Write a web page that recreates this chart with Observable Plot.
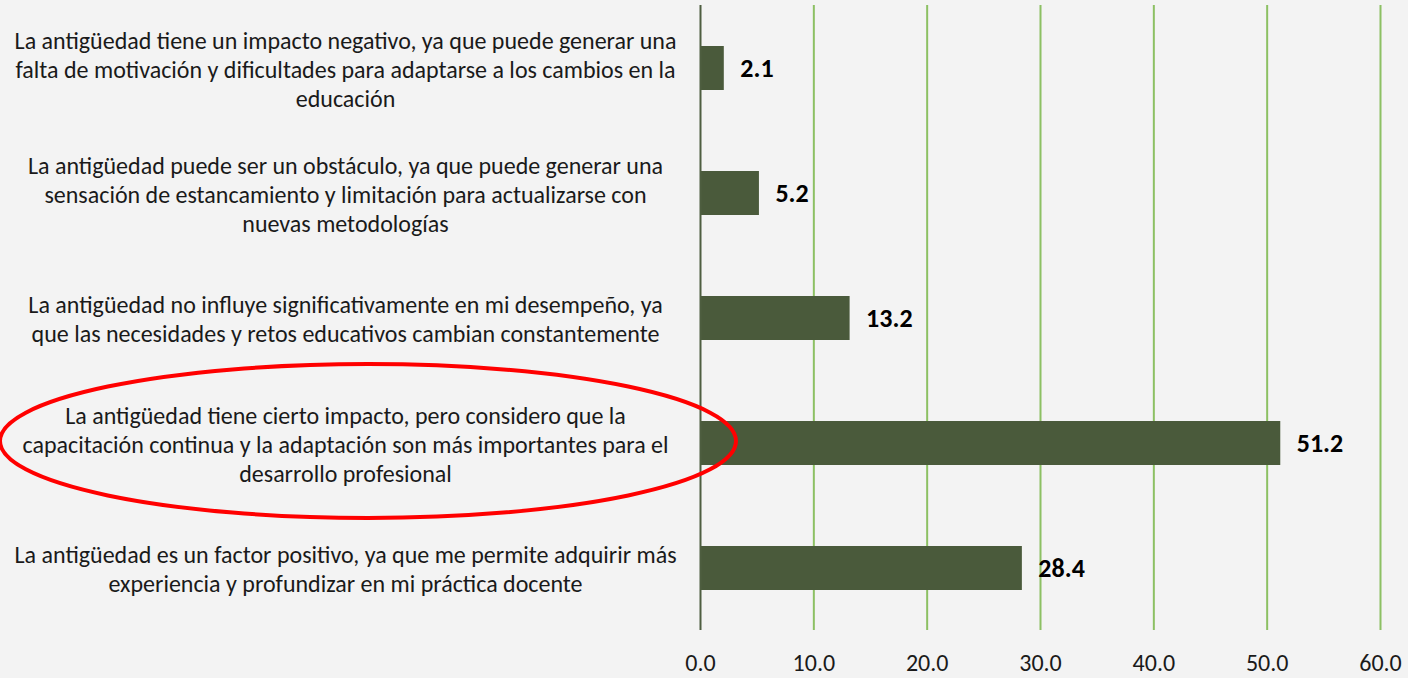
<!DOCTYPE html>
<html><head><meta charset="utf-8">
<script src="https://cdn.jsdelivr.net/npm/d3@7"></script>
<script src="https://cdn.jsdelivr.net/npm/@observablehq/plot@0.6"></script>
<style>
html,body{margin:0;padding:0;background:#f3f3f3;overflow:hidden;}
#chart svg{display:block;}
</style></head><body><div id="chart"></div>
<script>
const categories = [
  "La antigüedad tiene un impacto negativo, ya que puede generar una\nfalta de motivación y dificultades para adaptarse a los cambios en la\neducación",
  "La antigüedad puede ser un obstáculo, ya que puede generar una\nsensación de estancamiento y limitación para actualizarse con\nnuevas metodologías",
  "La antigüedad no influye significativamente en mi desempeño, ya\nque las necesidades y retos educativos cambian constantemente",
  "La antigüedad tiene cierto impacto, pero considero que la\ncapacitación continua y la adaptación son más importantes para el\ndesarrollo profesional",
  "La antigüedad es un factor positivo, ya que me permite adquirir más\nexperiencia y profundizar en mi práctica docente"
];
const values = [2.1, 5.2, 13.2, 51.2, 28.4];
const xTicks = [0, 10, 20, 30, 40, 50, 60];
const highlighted = categories[3];

const data = categories.map((c, i) => ({cat: c, value: values[i]}));
const font = "Carlito, Calibri, 'Liberation Sans Narrow', 'Open Sans', sans-serif";

const chart = Plot.plot({
  width: 1408, height: 678,
  marginLeft: 700, marginRight: 28, marginTop: 5, marginBottom: 48,
  style: {background: "#f3f3f3", fontFamily: font},
  x: {domain: [0, 60], ticks: xTicks, label: null},
  y: {domain: categories, paddingInner: 0.65, paddingOuter: 0.325, axis: null},
  marks: [
    Plot.gridX(xTicks.filter(d => d > 0), {stroke: "#8cc063", strokeOpacity: 1, strokeWidth: 2}),
    Plot.axisX(xTicks, {tickSize: 0, tickPadding: 23, tickFormat: d => d.toFixed(1), fontSize: 24, fill: "#1a1a1a", fontFamily: font, label: null}),
    Plot.barX(data, {y: "cat", x: "value", fill: "#4a5a3b"}),
    Plot.ruleX([0], {stroke: "#4e5e40", strokeWidth: 2}),
    Plot.text(data, {y: "cat", x: "value", text: d => d.value.toFixed(1), dx: 16, textAnchor: "start", fontWeight: "bold", fontSize: 26, fill: "#000", fontFamily: font}),
    Plot.text(data, {y: "cat", frameAnchor: "left", dx: -355, text: "cat", textAnchor: "middle", lineAnchor: "middle", lineHeight: 1.2, fontSize: 24, fill: "#1a1a1a", fontFamily: font})
  ]
});

// annotation ellipse around highlighted label
const yc = chart.scale("y").apply(highlighted) + chart.scale("y").bandwidth / 2;
const ns = "http://www.w3.org/2000/svg";
const el = document.createElementNS(ns, "ellipse");
el.setAttribute("cx", 368);
el.setAttribute("cy", yc - 2);
el.setAttribute("rx", 368);
el.setAttribute("ry", 77);
el.setAttribute("fill", "none");
el.setAttribute("stroke", "#ff0000");
el.setAttribute("stroke-width", 4);
chart.appendChild(el);

document.getElementById("chart").appendChild(chart);
</script></body></html>
